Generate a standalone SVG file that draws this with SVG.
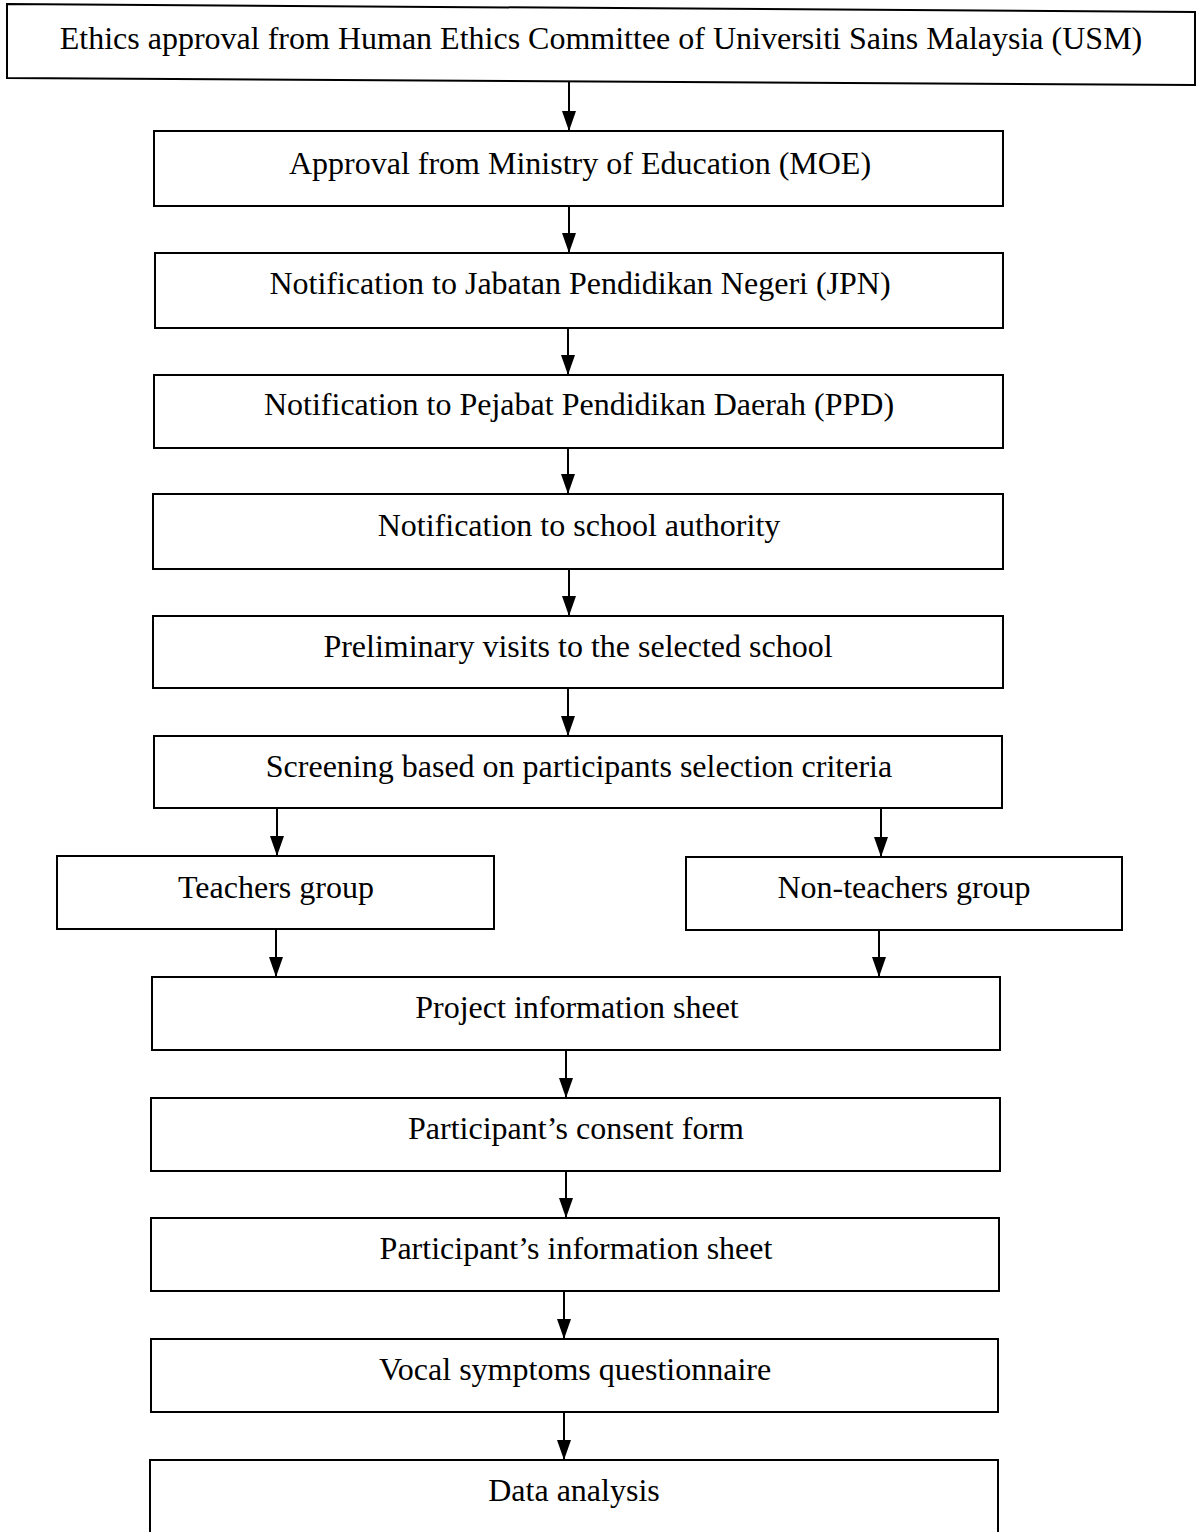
<svg xmlns="http://www.w3.org/2000/svg" width="1198" height="1532" viewBox="0 0 1198 1532">
<style>
.box{fill:#fff;stroke:#000;stroke-width:2}
.lbl{font-family:"Liberation Serif","Times New Roman",serif;font-size:32px;fill:#000;text-anchor:middle}
.con{stroke:#000;stroke-width:2;fill:none;marker-end:url(#ah)}
</style>
<defs>
<marker id="ah" markerUnits="userSpaceOnUse" markerWidth="20" markerHeight="14" refX="20" refY="7" orient="auto" viewBox="0 0 20 14">
<path d="M0,0 L20,7 L0,14 Z" fill="#000"/>
</marker>
</defs>
<rect width="1198" height="1532" fill="#fff"/>
<g id="connectors">
<path class="con" d="M569,81 V131"/>
<path class="con" d="M569,206 V253"/>
<path class="con" d="M568,328 V375"/>
<path class="con" d="M568,448 V494"/>
<path class="con" d="M569,569 V616"/>
<path class="con" d="M568,688 V736"/>
<path class="con" d="M277,808 V856"/>
<path class="con" d="M881,808 V857"/>
<path class="con" d="M276,929 V977"/>
<path class="con" d="M879,930 V977"/>
<path class="con" d="M566,1050 V1098"/>
<path class="con" d="M566,1171 V1218"/>
<path class="con" d="M564,1291 V1339"/>
<path class="con" d="M564,1412 V1460"/>
</g>
<g id="n1"><polygon class="box" points="7,4 1195,12 1195,85 7,78"/><text class="lbl" x="601" y="49">Ethics approval from Human Ethics Committee of Universiti Sains Malaysia (USM)</text></g>
<g id="n2"><rect class="box" x="154" y="131" width="849" height="75"/><text class="lbl" x="580" y="174">Approval from Ministry of Education (MOE)</text></g>
<g id="n3"><rect class="box" x="155" y="253" width="848" height="75"/><text class="lbl" x="580" y="294">Notification to Jabatan Pendidikan Negeri (JPN)</text></g>
<g id="n4"><rect class="box" x="154" y="375" width="849" height="73"/><text class="lbl" x="579" y="415">Notification to Pejabat Pendidikan Daerah (PPD)</text></g>
<g id="n5"><rect class="box" x="153" y="494" width="850" height="75"/><text class="lbl" x="579" y="536">Notification to school authority</text></g>
<g id="n6"><rect class="box" x="153" y="616" width="850" height="72"/><text class="lbl" x="578" y="657">Preliminary visits to the selected school</text></g>
<g id="n7"><rect class="box" x="154" y="736" width="848" height="72"/><text class="lbl" x="579" y="777">Screening based on participants selection criteria</text></g>
<g id="n8"><rect class="box" x="57" y="856" width="437" height="73"/><text class="lbl" x="276" y="898">Teachers group</text></g>
<g id="n9"><rect class="box" x="686" y="857" width="436" height="73"/><text class="lbl" x="904" y="898">Non-teachers group</text></g>
<g id="n10"><rect class="box" x="152" y="977" width="848" height="73"/><text class="lbl" x="577" y="1018">Project information sheet</text></g>
<g id="n11"><rect class="box" x="151" y="1098" width="849" height="73"/><text class="lbl" x="576" y="1139">Participant’s consent form</text></g>
<g id="n12"><rect class="box" x="151" y="1218" width="848" height="73"/><text class="lbl" x="576" y="1259">Participant’s information sheet</text></g>
<g id="n13"><rect class="box" x="151" y="1339" width="847" height="73"/><text class="lbl" x="575" y="1380">Vocal symptoms questionnaire</text></g>
<g id="n14"><rect class="box" x="150" y="1460" width="848" height="90"/><text class="lbl" x="574" y="1501">Data analysis</text></g>
</svg>
